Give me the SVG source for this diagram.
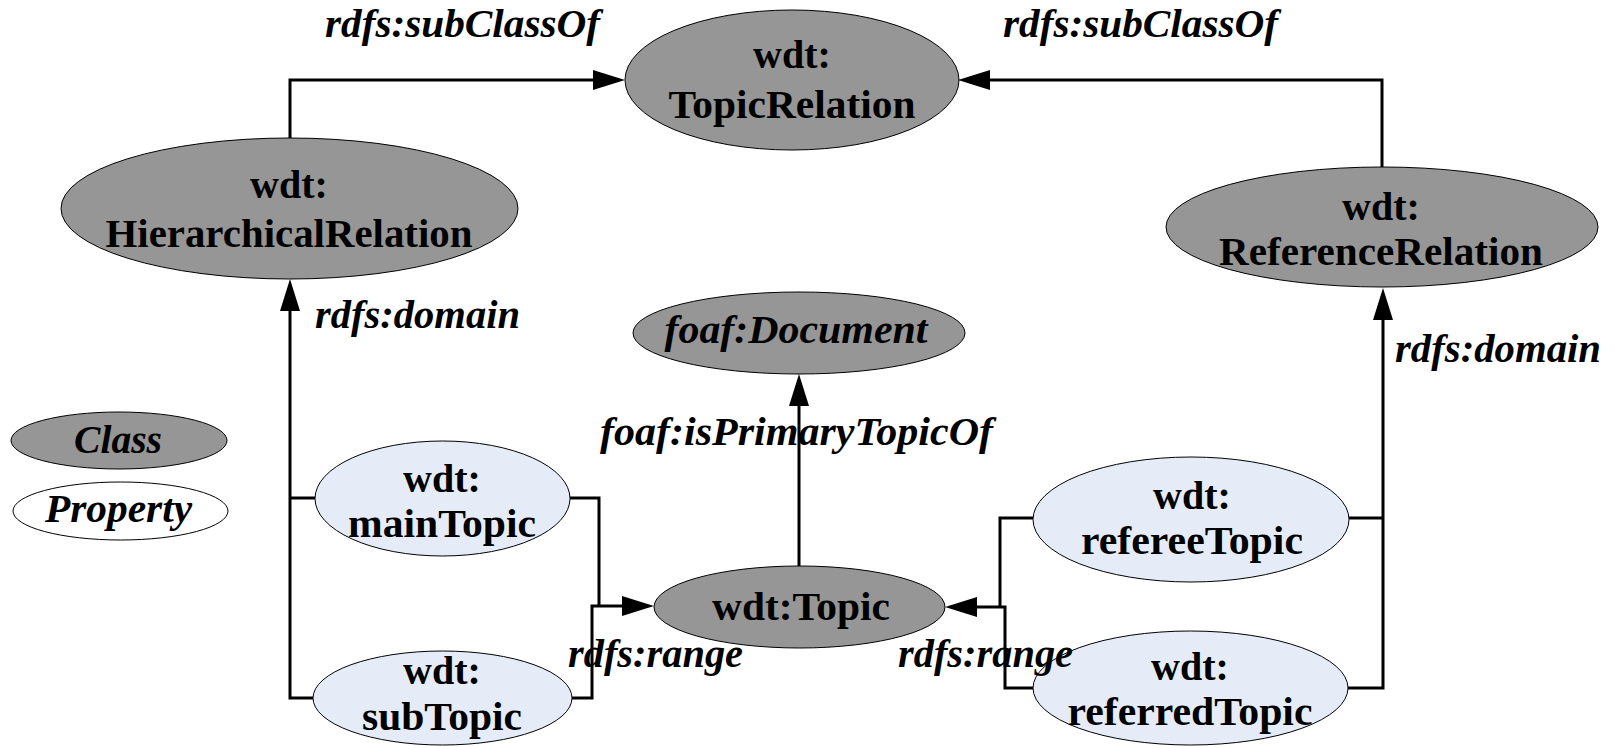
<svg xmlns="http://www.w3.org/2000/svg" width="1615" height="747" viewBox="0 0 1615 747">
<style>
.cls{fill:#969696;stroke:#000;stroke-width:1}
.prop{fill:#E6ECF7;stroke:#000;stroke-width:1}
.leg{fill:#fff;stroke:#000;stroke-width:1}
.t{font-family:"Liberation Serif","Times New Roman",serif;font-weight:bold;font-size:40px;fill:#000;text-anchor:middle}
.ti{font-family:"Liberation Serif","Times New Roman",serif;font-weight:bold;font-style:italic;font-size:40px;fill:#000;text-anchor:middle}
.lbl{font-family:"Liberation Serif","Times New Roman",serif;font-weight:bold;font-style:italic;font-size:40px;fill:#000}
.ln{fill:none;stroke:#000;stroke-width:3}
</style>
<defs>
<marker id="arr" markerUnits="userSpaceOnUse" viewBox="0 0 32 20" refX="0" refY="10" markerWidth="32" markerHeight="20" orient="auto">
<path d="M0,0 L32,10 L0,20 Z" fill="#000"/>
</marker>
</defs>
<g id="legend-class"><ellipse class="cls" cx="119" cy="440.5" rx="108" ry="28.5"/><text class="ti" x="118" y="453" textLength="88" lengthAdjust="spacingAndGlyphs">Class</text></g>
<g id="legend-property"><ellipse class="leg" cx="120.5" cy="511" rx="107.5" ry="29"/><text class="ti" x="118.5" y="522" textLength="147" lengthAdjust="spacingAndGlyphs">Property</text></g>
<g id="TopicRelation"><ellipse class="cls" cx="792" cy="80" rx="167" ry="70"/><text class="t" x="792" y="68">wdt:</text><text class="t" x="792" y="118" textLength="247" lengthAdjust="spacingAndGlyphs">TopicRelation</text></g>
<g id="HierarchicalRelation"><ellipse class="cls" cx="289.5" cy="208.5" rx="228.5" ry="70.5"/><text class="t" x="289" y="198">wdt:</text><text class="t" x="289" y="247" textLength="367" lengthAdjust="spacingAndGlyphs">HierarchicalRelation</text></g>
<g id="ReferenceRelation"><ellipse class="cls" cx="1382" cy="227" rx="216" ry="60"/><text class="t" x="1381" y="220">wdt:</text><text class="t" x="1381" y="265" textLength="324" lengthAdjust="spacingAndGlyphs">ReferenceRelation</text></g>
<g id="Document"><ellipse class="cls" cx="799" cy="333" rx="166" ry="41"/><text class="ti" x="796" y="343" textLength="263" lengthAdjust="spacingAndGlyphs">foaf:Document</text></g>
<g id="Topic"><ellipse class="cls" cx="799.5" cy="607" rx="145.5" ry="41"/><text class="t" x="801" y="620" textLength="178" lengthAdjust="spacingAndGlyphs">wdt:Topic</text></g>
<g id="mainTopic"><ellipse class="prop" cx="442.5" cy="498.5" rx="127.5" ry="57.5"/><text class="t" x="442" y="492">wdt:</text><text class="t" x="442" y="537" textLength="188" lengthAdjust="spacingAndGlyphs">mainTopic</text></g>
<g id="subTopic"><ellipse class="prop" cx="442.5" cy="698" rx="129.5" ry="47"/><text class="t" x="442" y="684">wdt:</text><text class="t" x="442" y="730" textLength="160" lengthAdjust="spacingAndGlyphs">subTopic</text></g>
<g id="refereeTopic"><ellipse class="prop" cx="1191" cy="519.5" rx="158" ry="62.5"/><text class="t" x="1192" y="509">wdt:</text><text class="t" x="1192" y="554" textLength="222" lengthAdjust="spacingAndGlyphs">refereeTopic</text></g>
<g id="referredTopic"><ellipse class="prop" cx="1190.5" cy="688" rx="157.5" ry="57"/><text class="t" x="1190" y="680">wdt:</text><text class="t" x="1190" y="725" textLength="245" lengthAdjust="spacingAndGlyphs">referredTopic</text></g>
<g id="connectors">
<text class="lbl" x="325" y="37" textLength="275" lengthAdjust="spacingAndGlyphs">rdfs:subClassOf</text>
<text class="lbl" x="1003" y="37" textLength="275" lengthAdjust="spacingAndGlyphs">rdfs:subClassOf</text>
<text class="lbl" x="315" y="328" textLength="205" lengthAdjust="spacingAndGlyphs">rdfs:domain</text>
<text class="lbl" x="1395" y="362" textLength="206" lengthAdjust="spacingAndGlyphs">rdfs:domain</text>
<text class="lbl" x="600" y="445" textLength="393" lengthAdjust="spacingAndGlyphs">foaf:isPrimaryTopicOf</text>
<text class="lbl" x="568" y="667" textLength="175" lengthAdjust="spacingAndGlyphs">rdfs:range</text>
<text class="lbl" x="898" y="667" textLength="175" lengthAdjust="spacingAndGlyphs">rdfs:range</text>
<path class="ln" d="M290,138 V80 H593" marker-end="url(#arr)"/>
<path class="ln" d="M1382,167 V80 H990" marker-end="url(#arr)"/>
<path class="ln" d="M315,498 H290"/>
<path class="ln" d="M313,698 H290 V311" marker-end="url(#arr)"/>
<path class="ln" d="M570,498 H599 V606"/>
<path class="ln" d="M572,698 H592 V606 H622" marker-end="url(#arr)"/>
<path class="ln" d="M799,566 V406" marker-end="url(#arr)"/>
<path class="ln" d="M1033,518 H1000 V607"/>
<path class="ln" d="M1033,688 H1005 V607 H977" marker-end="url(#arr)"/>
<path class="ln" d="M1349,518 H1383"/>
<path class="ln" d="M1348,688 H1383 V320" marker-end="url(#arr)"/>
</g>
</svg>
